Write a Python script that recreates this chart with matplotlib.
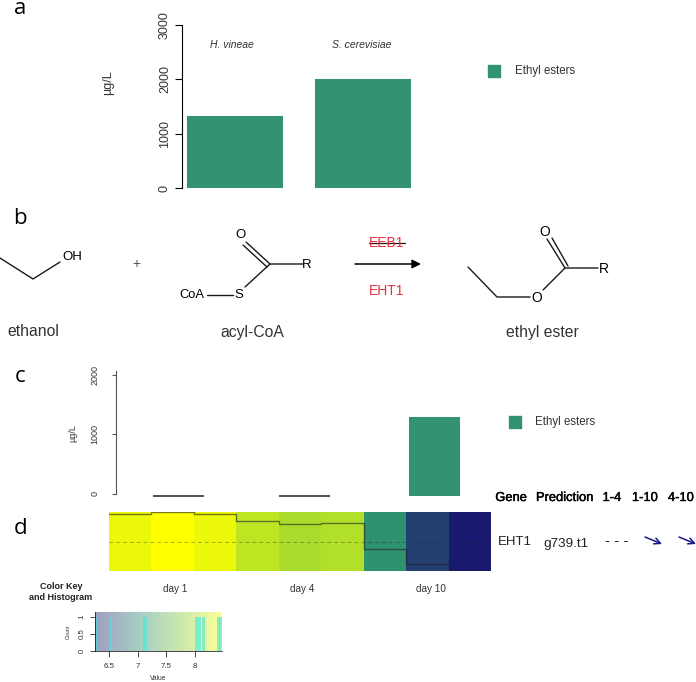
import matplotlib
matplotlib.use("Agg")
import numpy as np
import matplotlib.pyplot as plt
import matplotlib.patheffects as pe
from matplotlib.colors import LinearSegmentedColormap

W, H = 696, 682
plt.rcParams['font.family'] = ['Liberation Sans', 'DejaVu Sans']

GREEN = '#339370'
GREY = '#333333'

strains = ['H. vineae', 'S. cerevisiae']
esters_a = [1330, 2010]
days = ['day 1', 'day 4', 'day 10']
esters_c = [0, 0, 1330]
expr = [8.42, 8.50, 8.42, 8.15, 8.03, 8.09, 7.10, 6.53, 6.27]
color_vals = [6.27, 6.53, 7.10, 8.03, 8.15, 8.42, 8.50]
color_hex = ['#191970', '#234070', '#2f9270', '#a9dc2e', '#bde523', '#ecf80a', '#ffff00']
hist_vals = [6.27, 6.53, 7.13, 8.03, 8.09, 8.15, 8.42, 8.46]
hist_counts = [1, 1, 1, 1, 1, 1, 1, 1]
key_ticks = [6.5, 7, 7.5, 8]
key_labels = ['6.5', '7', '7.5', '8']
table_head = ['Gene', 'Prediction', '1-4', '1-10', '4-10']


def px_axes(fig, x0, y0, x1, y1):
    # box in image pixels, y counted from the top
    return fig.add_axes([x0 / W, 1 - y1 / H, (x1 - x0) / W, (y1 - y0) / H])


def bare(ax):
    for s in ['top', 'right', 'bottom']:
        ax.spines[s].set_visible(False)
    ax.set_xticks([])


fig = plt.figure(figsize=(W / 100, H / 100), dpi=100)

# panel a
ax_a = px_axes(fig, 182, 25, 420, 188)
ax_a.bar([235, 363], esters_a, width=96, color=GREEN)
ax_a.set_xlim(182, 420)
ax_a.set_ylim(0, 3000)
bare(ax_a)
ax_a.set_yticks([0, 1000, 2000, 3000])
ax_a.set_yticklabels(['0', '1000', '2000', '3000'], rotation=90, va='center', fontsize=9, color=GREY)
ax_a.tick_params(axis='y', length=5, width=0.8, pad=3)

# panel c, bars stand a little under the zero tick
baseline = -34
ax_c = px_axes(fig, 116, 371, 470, 496)
ax_c.bar([178.5, 304.5, 434.5], esters_c, width=51, color=GREEN, bottom=baseline)
ax_c.hlines([baseline, baseline], [153, 279], [204, 330], color='#333333', lw=1.2, clip_on=False)
ax_c.set_xlim(116, 470)
ax_c.set_ylim(baseline, 2067)
ax_c.patch.set_visible(False)
bare(ax_c)
ax_c.spines['left'].set_bounds(0, 2067)
ax_c.spines['left'].set_color('#555555')
ax_c.set_yticks([0, 1000, 2000])
ax_c.set_yticklabels(['0', '1000', '2000'], rotation=90, va='center', fontsize=6.5, color=GREY)
ax_c.tick_params(axis='y', length=3, width=0.8, pad=9, color='#555555')

# panel d heatmap
cmap = LinearSegmentedColormap.from_list(
    'key', [((v - 6.27) / (8.5 - 6.27), c) for v, c in zip(color_vals, color_hex)])
ax_d = px_axes(fig, 109, 512, 491, 571)
n = len(expr)
ax_d.imshow(np.array(expr).reshape(1, -1), cmap=cmap, vmin=6.27, vmax=8.5, aspect='auto',
            extent=[0, n, 6.27, 8.5])
ax_d.step(np.arange(n + 1), expr + [expr[-1]], where='post', color='#222222', lw=1, alpha=0.6)
ax_d.axhline(7.385, color='#222222', lw=0.7, ls=(0, (4, 3)), alpha=0.35)
ax_d.set_xlim(0, n)
ax_d.set_ylim(6.27, 8.5)
ax_d.set_xticks([1.57, 4.55, 7.58])
ax_d.set_xticklabels(days, fontsize=7.2, color=GREY)
ax_d.set_yticks([])
ax_d.tick_params(axis='x', length=0, pad=9)
for s in ax_d.spines.values():
    s.set_visible(False)

# colour key
ax_k = px_axes(fig, 95, 612, 222, 651)
grad = np.linspace(6.27, 8.5, 200).reshape(1, -1)
ax_k.imshow(grad, cmap=cmap, vmin=6.27, vmax=8.5, aspect='auto', alpha=0.42,
            extent=[6.255, 8.48, 0, 1.15])
ax_k.bar(hist_vals, hist_counts, width=0.055, color='#40e8e0', alpha=0.6)
ax_k.set_xlim(6.255, 8.48)
ax_k.set_ylim(0, 1.15)
ax_k.set_xticks(key_ticks)
ax_k.set_xticklabels(key_labels, fontsize=5.7, color=GREY)
ax_k.set_yticks([0, 0.5, 1])
ax_k.set_yticklabels(['0', '0.5', '1'], rotation=90, va='center', fontsize=5.7, color=GREY)
ax_k.tick_params(axis='x', length=4, width=0.5, pad=5)
ax_k.tick_params(axis='y', length=3.6, width=0.5, pad=3)
ax_k.set_xlabel('Value', fontsize=4.8, labelpad=3, color=GREY)
ax_k.set_ylabel('Count', fontsize=3.8, labelpad=5.5, color=GREY)
for s in ['top', 'right']:
    ax_k.spines[s].set_visible(False)
for s in ['left', 'bottom']:
    ax_k.spines[s].set_linewidth(0.5)

# overlay in pixel coordinates for letters, structures and the table
ov = fig.add_axes([0, 0, 1, 1], zorder=5)
ov.set_xlim(0, W)
ov.set_ylim(H, 0)
ov.axis('off')


def txt(x, y, s, size=9, **kw):
    kw.setdefault('ha', 'center')
    kw.setdefault('va', 'center')
    return ov.text(x, y, s, fontsize=size, **kw)


def bond(*pts, lw=1.0):
    xs, ys = zip(*pts)
    ov.plot(xs, ys, color='#1a1a1a', lw=lw, solid_capstyle='round')


for lab, x, y in [('a', 20, 8.5), ('b', 20, 219), ('c', 20, 376), ('d', 21, 528)]:
    txt(x, y, lab, 16, family=['Open Sans', 'DejaVu Sans'])

txt(232, 45, strains[0], 7.5, style='italic', color=GREY)
txt(362, 45, strains[1], 7.5, style='italic', color=GREY)
txt(108, 83, 'µg/L', 9, rotation=90, color=GREY)
txt(73, 433, 'µg/L', 6.5, rotation=90, color=GREY)

ov.scatter([494], [71], marker='s', s=70, color=GREEN)
txt(515, 71, 'Ethyl esters', 8.3, ha='left', color=GREY)
ov.scatter([515], [422], marker='s', s=70, color=GREEN)
txt(535, 422, 'Ethyl esters', 8.3, ha='left', color=GREY)

# ethanol
bond((0, 258), (33, 279), (60, 262))
txt(72, 257, 'OH', 9.5)
txt(136, 264, '+', 10, color='#555555')
txt(33, 332, 'ethanol', 11.3, color=GREY)

# acyl-CoA
bond((207, 295), (233, 295))
bond((245, 287), (270, 264), (303, 264))
bond((246, 242), (270, 264))
bond((243, 245), (267, 267))
txt(240, 235, 'O', 9.5)
txt(307, 265, 'R', 9.5)
txt(192, 295, 'CoA', 9.3)
txt(239, 295, 'S', 9.5)
txt(252, 333, 'acyl-CoA', 11.3, color=GREY)

# reaction arrow
ov.annotate('', xy=(421, 264), xytext=(355, 264),
            arrowprops=dict(arrowstyle='-|>', color='black', lw=1.1, mutation_scale=13,
                            shrinkA=0, shrinkB=0))
txt(387, 243, 'EEB1', 10, color='#e8303f')
bond((369, 243), (405, 243), lw=0.9)
txt(387, 291, 'EHT1', 10, color='#e8303f')

# ethyl ester
bond((468, 267), (497, 297), (530, 297))
bond((543, 290), (565, 268), (598, 268))
bond((547, 239), (565, 268))
bond((552, 238), (568, 266))
txt(545, 232, 'O', 10)
txt(604, 269, 'R', 10)
txt(537, 298, 'O', 10)
txt(542, 333, 'ethyl ester', 11.3, color=GREY)

# table
for s, x in zip(table_head, [511, 564.5, 612, 645, 681]):
    t = txt(x, 498, s, 9.3, color='black')
    t.set_path_effects([pe.withStroke(linewidth=0.3, foreground='black')])
txt(515, 542, 'EHT1', 9.5, color='#222222')
txt(566, 544, 'g739.t1', 9.7, color='#222222')
txt(617, 541, '- - -', 11, color='#222222')
for x0 in [645, 679]:
    ov.annotate('', xy=(x0 + 17, 544), xytext=(x0, 537),
                arrowprops=dict(arrowstyle='->', color='#1a1a8c', lw=1.1, mutation_scale=11,
                                shrinkA=0, shrinkB=0))

txt(61, 592, 'Color Key\nand Histogram', 6.5, fontweight='bold', linespacing=1.25, color='#222222')

fig.savefig('out.png', dpi=100)
